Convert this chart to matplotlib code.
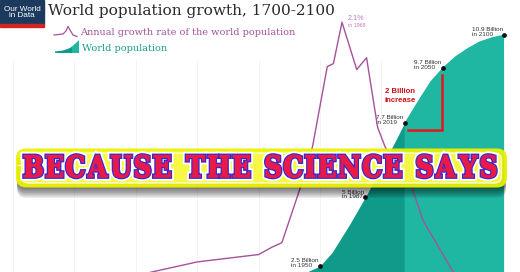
import matplotlib
matplotlib.use("Agg")
import matplotlib.pyplot as plt
import matplotlib.patheffects as pe
import matplotlib.transforms as mtransforms
from matplotlib.patches import Rectangle, FancyBboxPatch, PathPatch, Polygon
from matplotlib.textpath import TextPath
from matplotlib.path import Path
from matplotlib.font_manager import FontProperties
from matplotlib.lines import Line2D
import numpy as np

# world population (billions)
pop_years = [1700, 1800, 1850, 1900, 1927, 1940, 1950, 1960, 1974, 1987, 1999,
             2011, 2019, 2030, 2040, 2050, 2060, 2070, 2080, 2090, 2100]
pop_vals = [0.60, 0.98, 1.26, 1.65, 2.0, 2.3, 2.5, 3.0, 4.0, 5.0, 6.0,
            7.0, 7.7, 8.5, 9.2, 9.7, 10.1, 10.4, 10.65, 10.8, 10.9]

# annual growth rate (%)
rate_years = [1700, 1800, 1812, 1850, 1900, 1911, 1919, 1936, 1944, 1956, 1961,
              1968, 1980, 1988, 1997, 2003, 2012, 2023, 2034, 2058, 2100]
rate_vals = [0.10, 0.35, 0.41, 0.48, 0.53, 0.58, 0.61, 1.03, 1.26, 1.80, 1.82,
             2.10, 1.78, 1.86, 1.39, 1.26, 1.13, 1.03, 0.76, 0.42, 0.10]

milestone_years = [1927, 1950, 1987, 2019, 2050, 2100]
milestone_pop = [2.0, 2.5, 5.0, 7.7, 9.7, 10.9]
milestone_text = ["2 Billion", "2.5 Billion", "5 Billion", "7.7 Billion", "9.7 Billion", "10.9 Billion"]

increase_x = [2022, 2049.5, 2049.5]
increase_y = [7.45, 7.45, 9.45]

W, H = 520, 272
DARK = "#0f9a89"
LIGHT = "#1fb7a1"
PURPLE = "#a4529c"

fig = plt.figure(figsize=(W / 100, H / 100), dpi=100)
fig.patch.set_facecolor("white")
ax = fig.add_axes([0, 0, 1, 1])
ax.set_xlim(1689.4, 2113.0)
ax.set_ylim(2.286, 12.155)
ax.axis("off")

px = mtransforms.Affine2D().scale(1 / W, -1 / H).translate(0, 1) + fig.transFigure

# faint grid
for yr in range(1700, 2101, 50):
    ax.axvline(yr, ymax=0.78, color="#f3f3f3", lw=0.6, zorder=0)

yrs = np.array(pop_years)
pv = np.array(pop_vals)
ax.fill_between(yrs, pv, 0, where=yrs <= 2019, color=DARK, lw=0, zorder=1)
ax.fill_between(yrs, pv, 0, where=yrs >= 2019, color=LIGHT, lw=0, zorder=1)

ax.plot(milestone_years, milestone_pop, "o", color="#111111", ms=2.4, zorder=4)
for yr, p, t in zip(milestone_years, milestone_pop, milestone_text):
    ax.annotate(t + "\nin " + str(yr), xy=(yr, p), xytext=(-1, 2), textcoords="offset points",
                ha="right", va="center", ma="left", fontsize=4.6, family="Liberation Sans",
                color="#333333", linespacing=0.95, zorder=5)

ax.plot(increase_x, increase_y, color="#e8141c", lw=1.8, solid_joinstyle="miter", zorder=4)
ax.text(2015.3, 8.67, "2 Billion\nincrease", ha="center", va="center", fontsize=5.6,
        family="Liberation Sans", weight="bold", color="#cc1016", linespacing=1.3)

ax2 = ax.twinx()
ax2.set_ylim(0.412, 2.25)
ax2.axis("off")
ax2.plot(rate_years, rate_vals, color=PURPLE, lw=1.0)
ax2.annotate("2.1%", xy=(1968, 2.1), xytext=(4, 2.5), textcoords="offset points",
             ha="left", va="center", fontsize=5.2, family="Liberation Sans", color="#c07ab8")
ax2.annotate("in 1968", xy=(1968, 2.1), xytext=(4, -2.3), textcoords="offset points",
             ha="left", va="center", fontsize=3.8, family="Liberation Sans", color="#c07ab8")

# logo
fig.add_artist(Rectangle((0, 0), 44, 24, transform=px, color="#1b3a5e", zorder=5))
fig.add_artist(Rectangle((0, 24), 44, 2.5, transform=px, color="#d0261f", zorder=5))
fig.text(22 / W, 1 - 12.5 / H, "Our World\nin Data", ha="center", va="center", color="white",
         fontsize=5.9, family="Liberation Sans", linespacing=0.95, zorder=6)

# title and legend
fig.text(48 / W, 1 - 15.5 / H, "World population growth, 1700-2100", ha="left", va="baseline",
         fontsize=11.1, family="DejaVu Serif", color="#2a2a2a")
fig.text(80 / W, 1 - 35 / H, "Annual growth rate of the world population", ha="left",
         va="baseline", fontsize=7, family="DejaVu Serif", color=PURPLE)
fig.text(82 / W, 1 - 51 / H, "World population", ha="left", va="baseline", fontsize=7,
         family="DejaVu Serif", color="#179e8c")
fig.add_artist(Line2D([54, 63, 66, 68, 70, 73, 77], [35, 34, 31, 26.5, 30, 35, 36.5],
                      transform=px, color=PURPLE, lw=0.9))
fig.add_artist(Polygon([[55, 53], [55, 51.5], [63, 50.5], [70, 48], [72, 46.5], [72, 53]],
                       transform=px, color=DARK, lw=0))
fig.add_artist(Polygon([[72, 53], [72, 46.5], [76, 43], [79, 40], [79, 53]],
                       transform=px, color=LIGHT, lw=0))

# banner
shadow = [pe.SimplePatchShadow(offset=(0, -2 - 1.5 * k), shadow_rgbFace="black", alpha=0.13)
          for k in range(5)]
outer = FancyBboxPatch((17, 149.5), 489, 37, boxstyle="round,pad=0,rounding_size=9",
                       transform=px, facecolor="#f0f500", edgecolor="#e8f000", lw=1.5,
                       alpha=0.9, zorder=20, path_effects=shadow + [pe.Normal()])
fig.add_artist(outer)
inner = FancyBboxPatch((21.5, 153), 480, 30, boxstyle="round,pad=0,rounding_size=7",
                       transform=px, facecolor="#fbfb55", edgecolor="white", lw=1.0,
                       alpha=0.82, zorder=21)
fig.add_artist(inner)

# banner text, built letter by letter with extra tracking
banner = "BECAUSE THE SCIENCE SAYS"
fp = FontProperties(family="DejaVu Serif", weight="bold")
verts, codes = [], []
cursor = 0.0
for ch in banner:
    if ch == " ":
        cursor += 5.0
        continue
    g = TextPath((0, 0), ch, size=10, prop=fp)
    ge = g.get_extents()
    gp = g.transformed(mtransforms.Affine2D().translate(cursor - ge.x0, 0))
    verts.append(gp.vertices)
    codes.append(gp.codes)
    cursor += ge.width + 1.5
tp = Path(np.concatenate(verts), np.concatenate(codes))
ext = tp.get_extents()
tx0, tx1, ty0, ty1 = 24, 496, 155, 177.5
tr = (mtransforms.Affine2D().translate(-ext.x0, -ext.y0)
      .scale((tx1 - tx0) / ext.width, -(ty1 - ty0) / ext.height).translate(tx0, ty1))
banner_text = PathPatch(tr.transform_path(tp), transform=px, facecolor="#ea1a48",
                        edgecolor="#ea1a48", lw=0.9, zorder=22,
                        path_effects=[pe.Stroke(linewidth=5.2, foreground="white"),
                                      pe.Stroke(linewidth=2.6, foreground="#3428d4"),
                                      pe.Normal()])
fig.add_artist(banner_text)

fig.savefig("out.png", dpi=100)
